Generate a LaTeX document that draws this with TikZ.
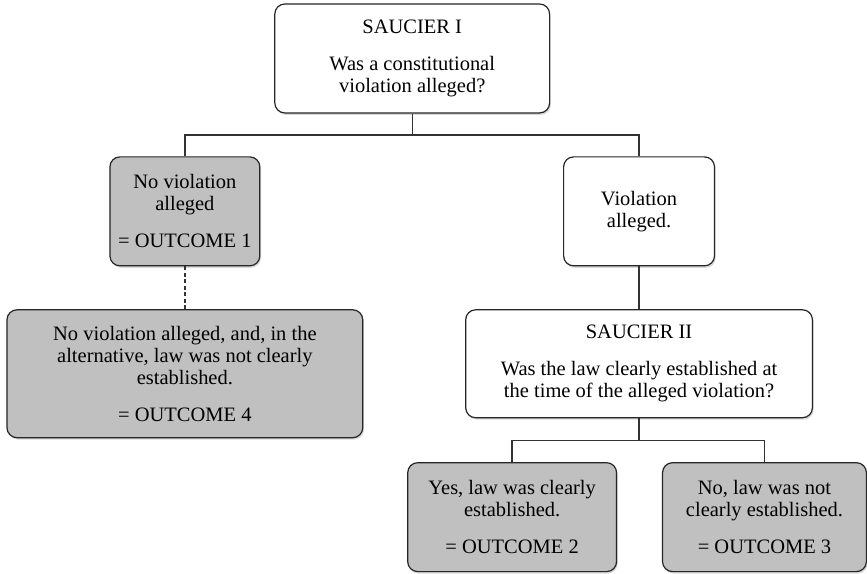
\documentclass[tikz,border=0pt]{standalone}
\usepackage{fontspec}
\setmainfont{Liberation Serif}
\usetikzlibrary{shadows}
\definecolor{kasten}{HTML}{C0C0C0}
\definecolor{rand}{HTML}{262626}
\definecolor{linie}{HTML}{333333}
\tikzset{
  frage/.style={draw=rand,fill=white,line width=1.2pt,rounded corners=10pt,align=center,inner sep=0pt,
    font=\fontsize{20.5}{22}\selectfont,
    drop shadow={shadow xshift=1.2pt,shadow yshift=-2pt,opacity=0.3}},
  ergebnis/.style={frage,fill=kasten},
  zweig/.style={linie,line width=1.4pt},
  hilf/.style={zweig,dash pattern=on 4pt off 2.5pt},
}
\begin{document}
\begin{tikzpicture}[x=1pt,y=-1pt]
  \path[fill=white] (0,0) rectangle (867,574);
  \node[frage,minimum width=275pt,minimum height=109pt] (sauc1) at (412.5,58.5)
    {SAUCIER I\\[15pt]Was a constitutional\\violation alleged?};
  \node[ergebnis,minimum width=150pt,minimum height=109pt] (keine) at (185,211.5)
    {No violation\\alleged\\[15pt]= OUTCOME 1};
  \node[frage,minimum width=151pt,minimum height=109pt] (verl) at (639.5,211.5)
    {Violation\\alleged.};
  \node[ergebnis,minimum width=356pt,minimum height=128pt] (alt4) at (185,374)
    {No violation alleged, and, in the\\alternative, law was not clearly\\established.\\[15pt]= OUTCOME 4};
  \node[frage,minimum width=347pt,minimum height=108pt] (sauc2) at (639.5,364)
    {SAUCIER II\\[15pt]Was the law clearly established at\\the time of the alleged violation?};
  \node[ergebnis,minimum width=209pt,minimum height=109pt] (erg2) at (512.5,517.5)
    {Yes, law was clearly\\established.\\[15pt]= OUTCOME 2};
  \node[ergebnis,minimum width=204pt,minimum height=109pt] (erg3) at (765,517.5)
    {No, law was not\\clearly established.\\[15pt]= OUTCOME 3};
  % Verzweigungen
  \coordinate (gabel1) at (412.5,135);
  \coordinate (gabel2) at (639.5,441);
  \draw[zweig] (sauc1) -- (gabel1);
  \draw[zweig] (keine.north) |- (gabel1) -| (verl.north);
  \draw[hilf] (keine) -- (alt4);
  \draw[zweig] (verl) -- (sauc2);
  \draw[zweig] (sauc2) -- (gabel2);
  \draw[zweig] (erg2.north) |- (gabel2) -| (erg3.north);
\end{tikzpicture}
\end{document}
